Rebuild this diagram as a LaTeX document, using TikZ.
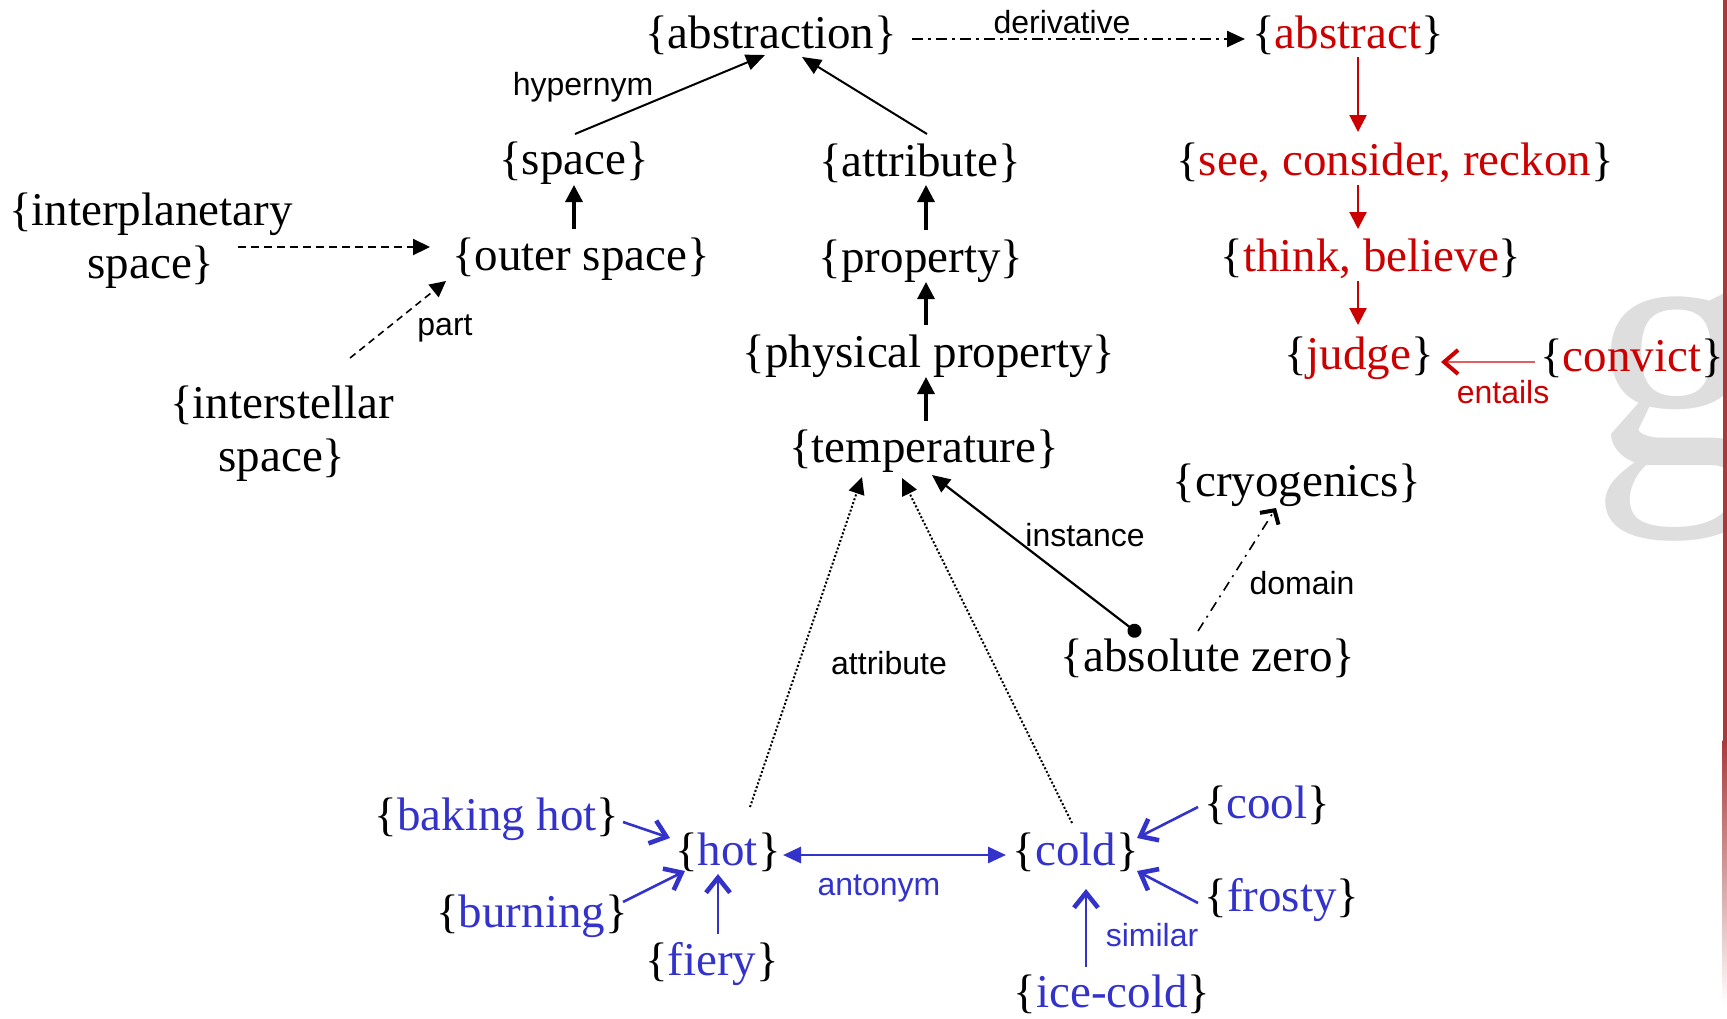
\documentclass[tikz,border=0pt]{standalone}
\usepackage{fontspec}
\setmainfont{Liberation Serif}
\newfontfamily\lblfamily{Liberation Sans}
\usetikzlibrary{calc,positioning,arrows.meta}
\definecolor{wnred}{HTML}{CC0000}
\definecolor{wnblue}{HTML}{3333CC}
\definecolor{entred}{HTML}{E06060}
\definecolor{wmgray}{HTML}{DEDEDE}
\definecolor{barred}{HTML}{A83A3A}
\newcommand{\redset}[1]{\{\textcolor{wnred}{#1}\}}
\newcommand{\blueset}[1]{\{\textcolor{wnblue}{#1}\}}
\tikzset{
	synset/.style={
		inner sep=0pt,
		align=center,
		font=\fontsize{23.5}{26.5}\selectfont
	},
	rel label/.style={
		inner sep=0pt,
		font=\lblfamily\fontsize{16}{18}\selectfont
	},
	hyper line/.style={ % requires library arrows.meta
		draw,
		line width=1pt,
		-{Triangle[length=9.5pt,width=8pt]}
	},
	isa line/.style={
		draw,
		line width=1.6pt,
		-{Triangle[length=8.5pt,width=8.5pt]}
	},
	deriv line/.style={
		draw,
		line width=1.2pt,
		dash pattern=on 5.5pt off 2.5pt on 1.5pt off 2.5pt,
		-{Triangle[length=9pt,width=8pt]}
	},
	verb line/.style={
		draw=wnred,
		line width=1.1pt,
		-{Triangle[length=8.5pt,width=8.5pt]}
	},
	entail line/.style={
		draw=entred,
		line width=0.6pt,
		-{Straight Barb[length=7pt,width=12pt,line width=2pt,color=wnred]}
	},
	dash line/.style={
		draw,
		line width=1.1pt,
		dash pattern=on 4pt off 2.5pt,
		-{Triangle[length=8.5pt,width=8pt]}
	},
	part line/.style={
		draw,
		line width=0.8pt,
		dash pattern=on 3.5pt off 2.5pt,
		-{Triangle[length=8pt,width=8pt]}
	},
	attr line/.style={
		draw,
		line width=1pt,
		dash pattern=on 1pt off 1pt,
		-{Triangle[length=8.5pt,width=8pt]}
	},
	inst line/.style={
		draw,
		line width=1.1pt,
		{Circle[length=7pt]}-{Triangle[length=9pt,width=8pt]}
	},
	dom line/.style={
		draw,
		line width=0.8pt,
		dash pattern=on 5pt off 3pt on 1pt off 3pt,
		-{Straight Barb[length=5pt,width=11pt,line width=2pt]}
	},
	anto line/.style={
		draw=wnblue,
		line width=1.4pt,
		{Triangle[length=9pt,width=8pt]}-{Triangle[length=9pt,width=8pt]}
	},
	sim line/.style={
		draw=wnblue,
		line width=1.3pt,
		-{Straight Barb[length=7.5pt,width=12pt,line width=2.3pt]}
	},
}

\begin{document}
\begin{tikzpicture}[x=0.5pt,y=-0.5pt]
	\useasboundingbox (0,0) rectangle (1727,1018);
	\node[inner sep=0pt,anchor=base west,text=wmgray,font=\fontsize{178}{178}\selectfont] (wmark) at (1590,464) {g};
	\fill[barred] (1722.5,0) rectangle (1727,740);
	\shade[top color=barred,bottom color=white] (1722.5,740) rectangle (1727,1005);

	\node[synset] (abstr) at (771,35) {\{abstraction\}};
	\node[synset] (abst) at (1348,35) {\redset{abstract}};
	\node[synset] (spc) at (574,163) {\{space\}};
	\node[synset] (attr) at (920,163) {\{attribute\}};
	\node[synset] (see) at (1395,163) {\redset{see, consider, reckon}};
	\node[synset] (interpl) at (151,241) {\{interplanetary\\space\}};
	\node[synset] (outer) at (581,259) {\{outer space\}};
	\node[synset] (prop) at (921,261) {\{property\}};
	\node[synset] (think) at (1371,259) {\redset{think, believe}};
	\node[synset] (interst) at (282,434) {\{interstellar\\space\}};
	\node[synset] (phys) at (929,356) {\{physical property\}};
	\node[synset] (judge) at (1359,358) {\redset{judge}};
	\node[synset] (convict) at (1632,358) {\redset{convict}};
	\node[synset] (temp) at (924,451) {\{temperature\}};
	\node[synset] (cryo) at (1297,485) {\{cryogenics\}};
	\node[synset] (abszero) at (1208,658) {\{absolute zero\}};
	\node[synset] (baking) at (497,819) {\blueset{baking hot}};
	\node[synset] (hot) at (728,852) {\blueset{hot}};
	\node[synset] (cold) at (1076,852) {\blueset{cold}};
	\node[synset] (cool) at (1267,805) {\blueset{cool}};
	\node[synset] (burning) at (532,916) {\blueset{burning}};
	\node[synset] (frosty) at (1282,900) {\blueset{frosty}};
	\node[synset] (fiery) at (712,964) {\blueset{fiery}};
	\node[synset] (icecold) at (1112,994) {\blueset{ice-cold}};

	\node[rel label] (lderiv) at (1062,22) {derivative};
	\node[rel label] (lhyper) at (583,87) {hypernym};
	\node[rel label] (lpart) at (445,328) {part};
	\node[rel label] (linst) at (1085,535) {instance};
	\node[rel label] (ldom) at (1302,583) {domain};
	\node[rel label] (lattr) at (889,663) {attribute};
	\node[rel label,text=wnblue] (lanto) at (879,888) {antonym};
	\node[rel label,text=wnblue] (lsim) at (1152,935) {similar};
	\node[rel label,text=wnred] (lentail) at (1503,392) {entails};

	\path[hyper line] ($(spc)+(1,-29)$) -- ($(abstr)+(-6,20)$);
	\path[hyper line] ($(attr)+(7,-29)$) -- ($(abstr)+(31,22)$);
	\path[deriv line] ($(abstr)+(141,4)$) -- ($(abst)+(-103,4)$);
	\path[verb line] ($(abst)+(10,22)$) -- ($(see)+(-37,-31)$);
	\path[verb line] ($(see)+(-37,22)$) -- ($(think)+(-13,-30)$);
	\path[verb line] ($(think)+(-13,22)$) -- ($(judge)+(-1,-33)$);
	\path[entail line] ($(convict)+(-97,4)$) -- ($(judge)+(82,4)$);
	\path[isa line] ($(outer)+(-7,-30)$) -- ($(spc)+(0,22)$);
	\path[isa line] ($(prop)+(5,-31)$) -- ($(attr)+(6,22)$);
	\path[isa line] ($(phys)+(-3,-31)$) -- ($(prop)+(5,21)$);
	\path[isa line] ($(temp)+(2,-30)$) -- ($(phys)+(-3,21)$);
	\path[dash line] ($(interpl)+(87,6)$) -- ($(outer)+(-151,-12)$);
	\path[part line] ($(interst)+(68,-76)$) -- ($(outer)+(-135,22)$);
	\path[inst line] ($(abszero)+(-68,-23)$) -- ($(temp)+(8,24)$);
	\path[dom line] ($(abszero)+(-10,-27)$) -- ($(cryo)+(-21,23)$);
	\path[attr line] ($(hot)+(22,-45)$) -- ($(temp)+(-62,26)$);
	\path[attr line] ($(cold)+(-4,-29)$) -- ($(temp)+(-22,27)$);
	\path[anto line] ($(hot)+(55,3)$) -- ($(cold)+(-70,3)$);
	\path[sim line] ($(baking)+(126,3)$) -- ($(hot)+(-58,-14)$);
	\path[sim line] ($(burning)+(91,-14)$) -- ($(hot)+(-43,19)$);
	\path[sim line] ($(fiery)+(6,-30)$) -- ($(hot)+(-10,22)$);
	\path[sim line] ($(cool)+(-69,2)$) -- ($(cold)+(61,-14)$);
	\path[sim line] ($(frosty)+(-84,3)$) -- ($(cold)+(61,19)$);
	\path[sim line] ($(icecold)+(-26,-27)$) -- ($(cold)+(10,37)$);
\end{tikzpicture}
\end{document}
